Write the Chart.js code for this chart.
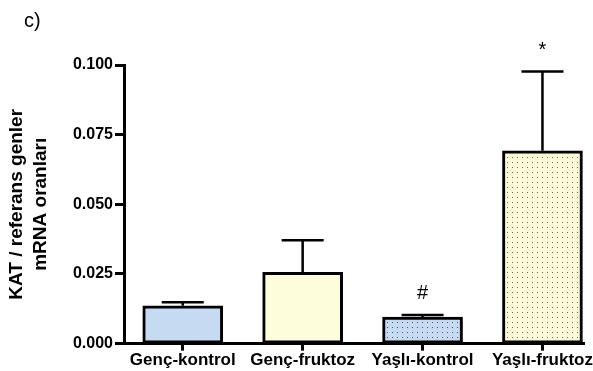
<!DOCTYPE html>
<html>
<head>
<meta charset="utf-8">
<script src="https://cdn.jsdelivr.net/npm/chart.js@4.4.1/dist/chart.umd.min.js"></script>
<style>
  html, body { margin: 0; padding: 0; background: #fff; overflow: hidden; }
</style>
</head>
<body>
<canvas id="kat" width="593" height="371"></canvas>
<script>
// veri
var groups = ['Genç-kontrol', 'Genç-fruktoz', 'Yaşlı-kontrol', 'Yaşlı-fruktoz'];
var means = [0.0136, 0.0256, 0.0095, 0.0692];
var sems = [0.0012, 0.0115, 0.0008, 0.0285];
var marks = ['', '', '#', '*'];
var yTicks = [0, 0.025, 0.05, 0.075, 0.1];

var FONT = "'Liberation Sans', Arial, sans-serif";

// motif noktali
function dots(bg, dot) {
  var c = document.createElement('canvas');
  c.width = 5; c.height = 5;
  var g = c.getContext('2d');
  g.fillStyle = bg;
  g.fillRect(0, 0, 5, 5);
  g.fillStyle = dot;
  g.fillRect(2, 2, 1, 1);
  return g.createPattern(c, 'repeat');
}

var fills = [
  '#c6daf2',
  '#fdfcdb',
  dots('#c6daf2', '#4d5868'),
  dots('#fbf9d8', '#6c6a50')
];

// hata cubuklari + isaretler
var extras = {
  id: 'extras',
  afterDatasetsDraw: function(chart) {
    var ctx = chart.ctx, xs = chart.scales.x, ys = chart.scales.y;
    ctx.save();
    ctx.strokeStyle = '#000';
    ctx.fillStyle = '#000';
    for (var i = 0; i < means.length; i++) {
      var x = xs.getPixelForValue(i);
      var y0 = ys.getPixelForValue(means[i]);
      var y1 = ys.getPixelForValue(means[i] + sems[i]);
      ctx.lineWidth = 2.5;
      ctx.beginPath();
      ctx.moveTo(x, y0);
      ctx.lineTo(x, y1);
      ctx.moveTo(x - 21, y1);
      ctx.lineTo(x + 21, y1);
      ctx.stroke();
      if (marks[i]) {
        ctx.font = '20px ' + FONT;
        ctx.textAlign = 'center';
        ctx.textBaseline = 'middle';
        ctx.fillText(marks[i], x, y1 - 21);
      }
    }
    ctx.font = '20px ' + FONT;
    ctx.textAlign = 'left';
    ctx.textBaseline = 'middle';
    ctx.fillText('c)', 24, 21);
    ctx.restore();
  }
};

new Chart(document.getElementById('kat'), {
  type: 'bar',
  data: {
    datasets: [{
      data: means.map(function(v, i) { return { x: i, y: v }; }),
      backgroundColor: fills,
      borderColor: '#000',
      borderWidth: 3,
      borderSkipped: false,
      barThickness: 80
    }]
  },
  options: {
    responsive: false,
    animation: false,
    devicePixelRatio: 1,
    layout: { padding: { top: 65, right: 0, bottom: 0, left: 0 } },
    plugins: { legend: { display: false }, tooltip: { enabled: false } },
    scales: {
      x: {
        type: 'linear',
        min: -0.49,
        max: 3.35,
        offset: false,
        afterBuildTicks: function(s) { s.ticks = groups.map(function(g, i) { return { value: i }; }); },
        grid: { drawOnChartArea: false, drawTicks: true, tickLength: 7, tickWidth: 3, tickColor: '#000', offset: false },
        border: { display: true, color: '#000', width: 3 },
        ticks: {
          autoSkip: false, maxRotation: 0, padding: 0, color: '#000',
          font: { family: FONT, size: 17, weight: 'bold' },
          callback: function(v) { return groups[v]; }
        }
      },
      y: {
        min: 0,
        max: 0.1,
        afterBuildTicks: function(s) { s.ticks = yTicks.map(function(v) { return { value: v }; }); },
        afterFit: function(s) { s.width = 124; },
        grid: { drawOnChartArea: false, drawTicks: true, tickLength: 9, tickWidth: 3, tickColor: '#000' },
        border: { display: true, color: '#000', width: 3 },
        ticks: {
          padding: 2, color: '#000',
          font: { family: FONT, size: 16, weight: 'bold' },
          callback: function(v) { return v.toFixed(3); }
        },
        title: {
          display: true,
          text: ['KAT / referans genler', 'mRNA oranları'],
          color: '#000',
          padding: { top: 5, bottom: 0 },
          font: { family: FONT, size: 19, weight: 'bold', lineHeight: 1.25 }
        }
      }
    }
  },
  plugins: [extras]
});
</script>
</body>
</html>
